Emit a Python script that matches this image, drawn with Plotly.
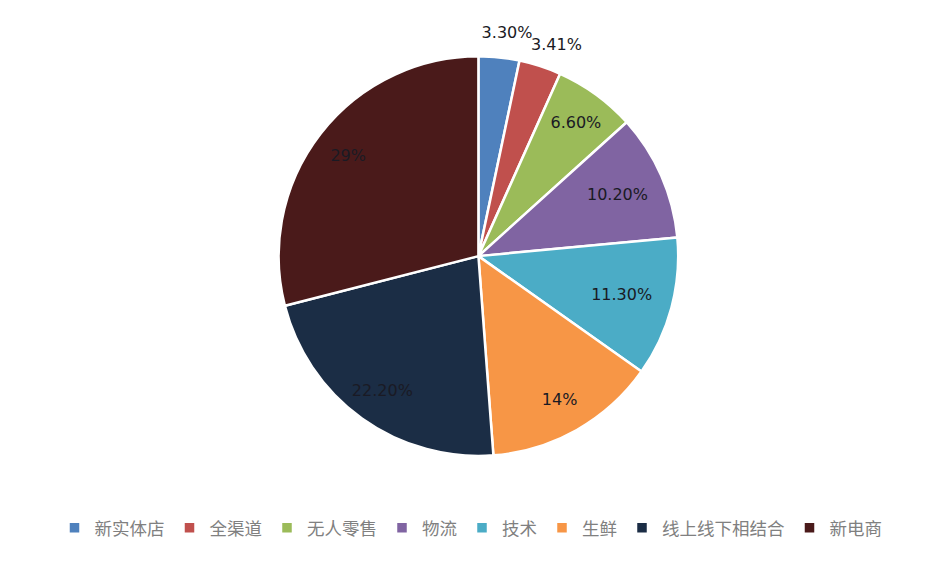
import plotly.graph_objects as go

# 数据
categories = ["新实体店", "全渠道", "无人零售", "物流", "技术", "生鲜", "线上线下相结合", "新电商"]
values = [3.30, 3.41, 6.60, 10.20, 11.30, 14, 22.20, 29]
value_labels = ["3.30%", "3.41%", "6.60%", "10.20%", "11.30%", "14%", "22.20%", "29%"]
colors = ["#4F81BD", "#C0504D", "#9BBB59", "#8064A2", "#4BACC6", "#F79646", "#1B2D45", "#4A1A1A"]

# 每一层显示哪些标签
main_pos = ["none", "none", "inside", "inside", "inside", "none", "none", "none"]
ring_pos = ["none", "none", "none", "none", "none", "inside", "inside", "inside"]
out1_pos = ["outside", "none", "none", "none", "none", "none", "none", "none"]
out2_pos = ["none", "outside", "none", "none", "none", "none", "none", "none"]

pie_domain = dict(x=[0.292, 0.724], y=[0.203, 0.914])
label_font = dict(family="DejaVu Sans", size=16, color="#1a1a24")
clear = ["rgba(0,0,0,0)"] * len(values)


def label_layer(pos, domain, hole=0):
    # 透明的一层, 只画标签
    return go.Pie(
        labels=categories,
        values=values,
        text=value_labels,
        texttemplate="%{text}",
        textposition=pos,
        insidetextorientation="horizontal",
        hole=hole,
        sort=False,
        direction="clockwise",
        rotation=0,
        marker=dict(colors=clear, line=dict(width=0)),
        textfont=label_font,
        domain=domain,
        showlegend=False,
        hoverinfo="skip",
    )


fig = go.Figure()
fig.add_trace(go.Pie(
    labels=categories,
    values=values,
    text=value_labels,
    texttemplate="%{text}",
    textposition=main_pos,
    insidetextorientation="horizontal",
    sort=False,
    direction="clockwise",
    rotation=0,
    marker=dict(colors=colors, line=dict(color="white", width=2.5)),
    textfont=label_font,
    domain=pie_domain,
    hoverinfo="label+percent",
))

# 大扇区标签放在外圈
fig.add_trace(label_layer(ring_pos, pie_domain, hole=0.65))
# 两个小扇区的外部标签分开放, 免得被挤开出现引导线
fig.add_trace(label_layer(out1_pos, dict(x=[0.268, 0.700], y=[0.230, 0.941])))
fig.add_trace(label_layer(out2_pos, dict(x=[0.277, 0.709], y=[0.226, 0.937])))

# 布局
fig.update_layout(
    width=926,
    height=562,
    margin=dict(l=0, r=0, t=0, b=0),
    paper_bgcolor="white",
    plot_bgcolor="white",
    font=dict(family="Noto Sans CJK SC", size=17.5, color="#808080"),
    legend=dict(
        orientation="h",
        x=0.5, xanchor="center",
        y=0.075, yanchor="middle",
        font=dict(size=17.5, color="#808080"),
        itemwidth=30,
        traceorder="normal",
    ),
)

fig.write_html("out.html")
